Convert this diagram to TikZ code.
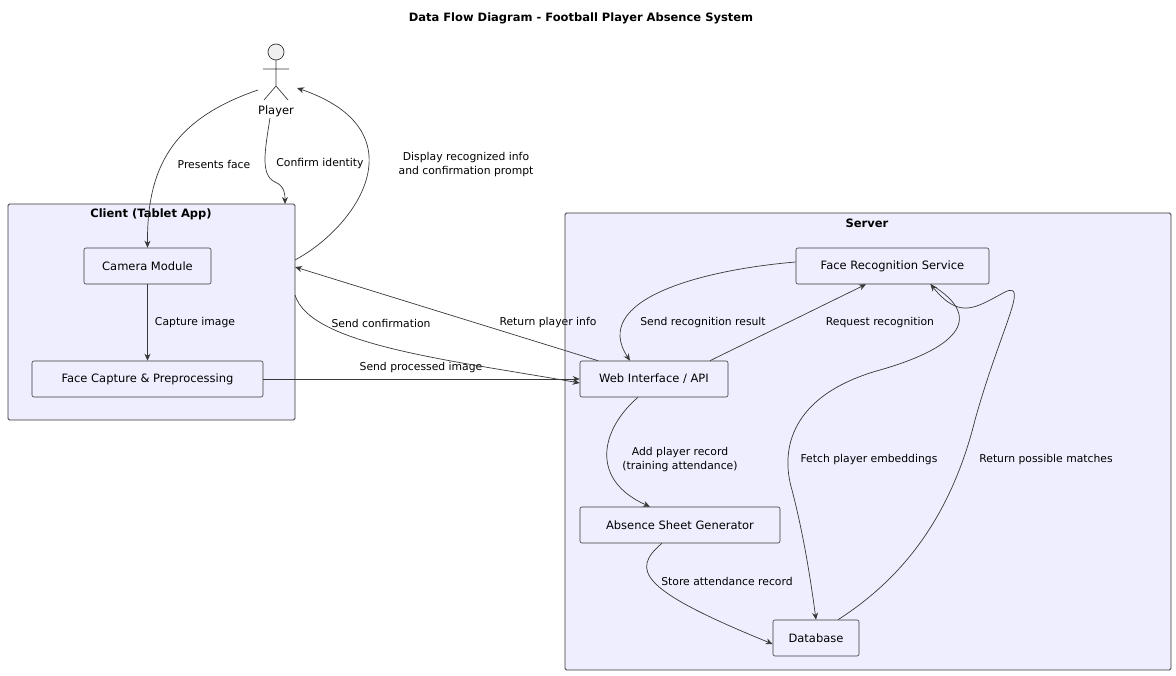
\documentclass[tikz,border=0pt]{standalone}
\usepackage{fontspec}
\setmainfont{DejaVu Sans}
\usetikzlibrary{arrows.meta}
\definecolor{bg}{HTML}{EEEEFF}
\definecolor{ln}{HTML}{383838}
\begin{document}
\begin{tikzpicture}[x=1pt,y=-1pt,
  box/.style={draw=ln,fill=bg,rounded corners=1.5pt,line width=0.8pt},
  comp/.style={draw=ln,fill=bg,rounded corners=2pt,line width=0.6pt,minimum height=36pt,inner sep=0pt,font=\fontsize{11.5}{13}\selectfont},
  lab/.style={font=\fontsize{10.8}{14}\selectfont,align=center,text=black},
  ttl/.style={font=\fontsize{11.5}{13}\selectfont\bfseries},
  arr/.style={draw=ln,line width=0.7pt,-{Stealth[length=7pt,width=6pt]}}]
\useasboundingbox (0,0) rectangle (1176,676);
\node[ttl] (title) at (581,18) {Data Flow Diagram - Football Player Absence System};
% actor
\draw[ln,fill=black!6,line width=0.7pt] (276,52) circle (8);
\draw[ln,line width=0.7pt] (276,60) -- (276,86) (263,69) -- (289,69) (276,86) -- (264,100) (276,86) -- (288,100);
\node[font=\fontsize{11.5}{13}\selectfont] (player) at (276,111) {Player};
\coordinate (pl1) at (258,90);
\coordinate (pl2) at (270,118);
\coordinate (pl3) at (297,88);
% boxes
\draw[box] (8,204) rectangle (295,420);
\node[ttl] (ctitle) at (151,214) {Client (Tablet App)};
\draw[box] (565,213) rectangle (1171,670);
\node[ttl] (stitle) at (867,223) {Server};
\coordinate (cl1) at (285,204);
\coordinate (cl2) at (295,260);
\coordinate (cl3) at (295,295);
\coordinate (cl4) at (295,267);
\node[comp,minimum width=127pt] (cam) at (147.5,266) {Camera Module};
\node[comp,minimum width=231pt] (fc) at (147.5,379) {Face Capture \& Preprocessing};
\node[comp,minimum width=193pt] (frs) at (892.5,266) {Face Recognition Service};
\node[comp,minimum width=148pt] (web) at (654,379) {Web Interface / API};
\node[comp,minimum width=200pt] (asg) at (680,525) {Absence Sheet Generator};
\node[comp,minimum width=86pt] (db) at (816,638) {Database};
% edges
\draw[arr] (pl1) .. controls (170,120) and (147,170) .. (cam.north);
\node[lab] at (214,164) {Presents face};
\draw[arr] (pl2) .. controls (265,150) and (260,175) .. (275,182) .. controls (285,186) and (285,195) .. (cl1);
\node[lab] at (320,164) {Confirm identity};
\draw[arr] (cl2) .. controls (360,225) and (420,130) .. (pl3);
\node[lab] at (466,165) {Display recognized info\\and confirmation prompt};
\draw[arr] (cam) -- (fc);
\node[lab] at (195,323) {Capture image};
\draw[arr] (fc.east) -- (web.west |- fc.east);
\node[lab] at (421,368) {Send processed image};
\draw[arr] (cl3) .. controls (310,345) and (450,360) .. ([yshift=-4pt]web.west);
\node[lab] at (381,323) {Send confirmation};
\draw[arr] ([xshift=-56pt]web.north) -- (cl4);
\node[lab] at (548,323) {Return player info};
\draw[arr] ([xshift=56pt]web.north) -- (frs.south -| 866,0);
\node[lab] at (880,323) {Request recognition};
\draw[arr] ([yshift=4pt]frs.west) .. controls (700,270) and (590,300) .. ([xshift=-24pt]web.north);
\node[lab] at (703,323) {Send recognition result};
\draw[arr] ([xshift=-16pt]web.south) .. controls (600,430) and (590,480) .. ([xshift=-30pt]asg.north);
\node[lab] at (680,460) {Add player record\\(training attendance)};
\draw[arr] ([xshift=-18pt]asg.south) .. controls (630,570) and (640,590) .. ([yshift=-6pt]db.west);
\node[lab] at (727,581) {Store attendance record};
\draw[arr] ([xshift=38pt]frs.south) .. controls (990,320) and (950,350) .. (880,370) .. controls (790,395) and (780,450) .. (792,490) .. controls (805,540) and (812,590) .. (db.north);
\node[lab] at (869,460) {Fetch player embeddings};
\draw[arr] ([xshift=22pt]db.north) .. controls (900,580) and (950,520) .. (975,420) .. controls (1000,330) and (1030,280) .. (1005,292) .. controls (975,308) and (960,320) .. ([xshift=38pt]frs.south);
\node[lab] at (1046,460) {Return possible matches};
\end{tikzpicture}
\end{document}
